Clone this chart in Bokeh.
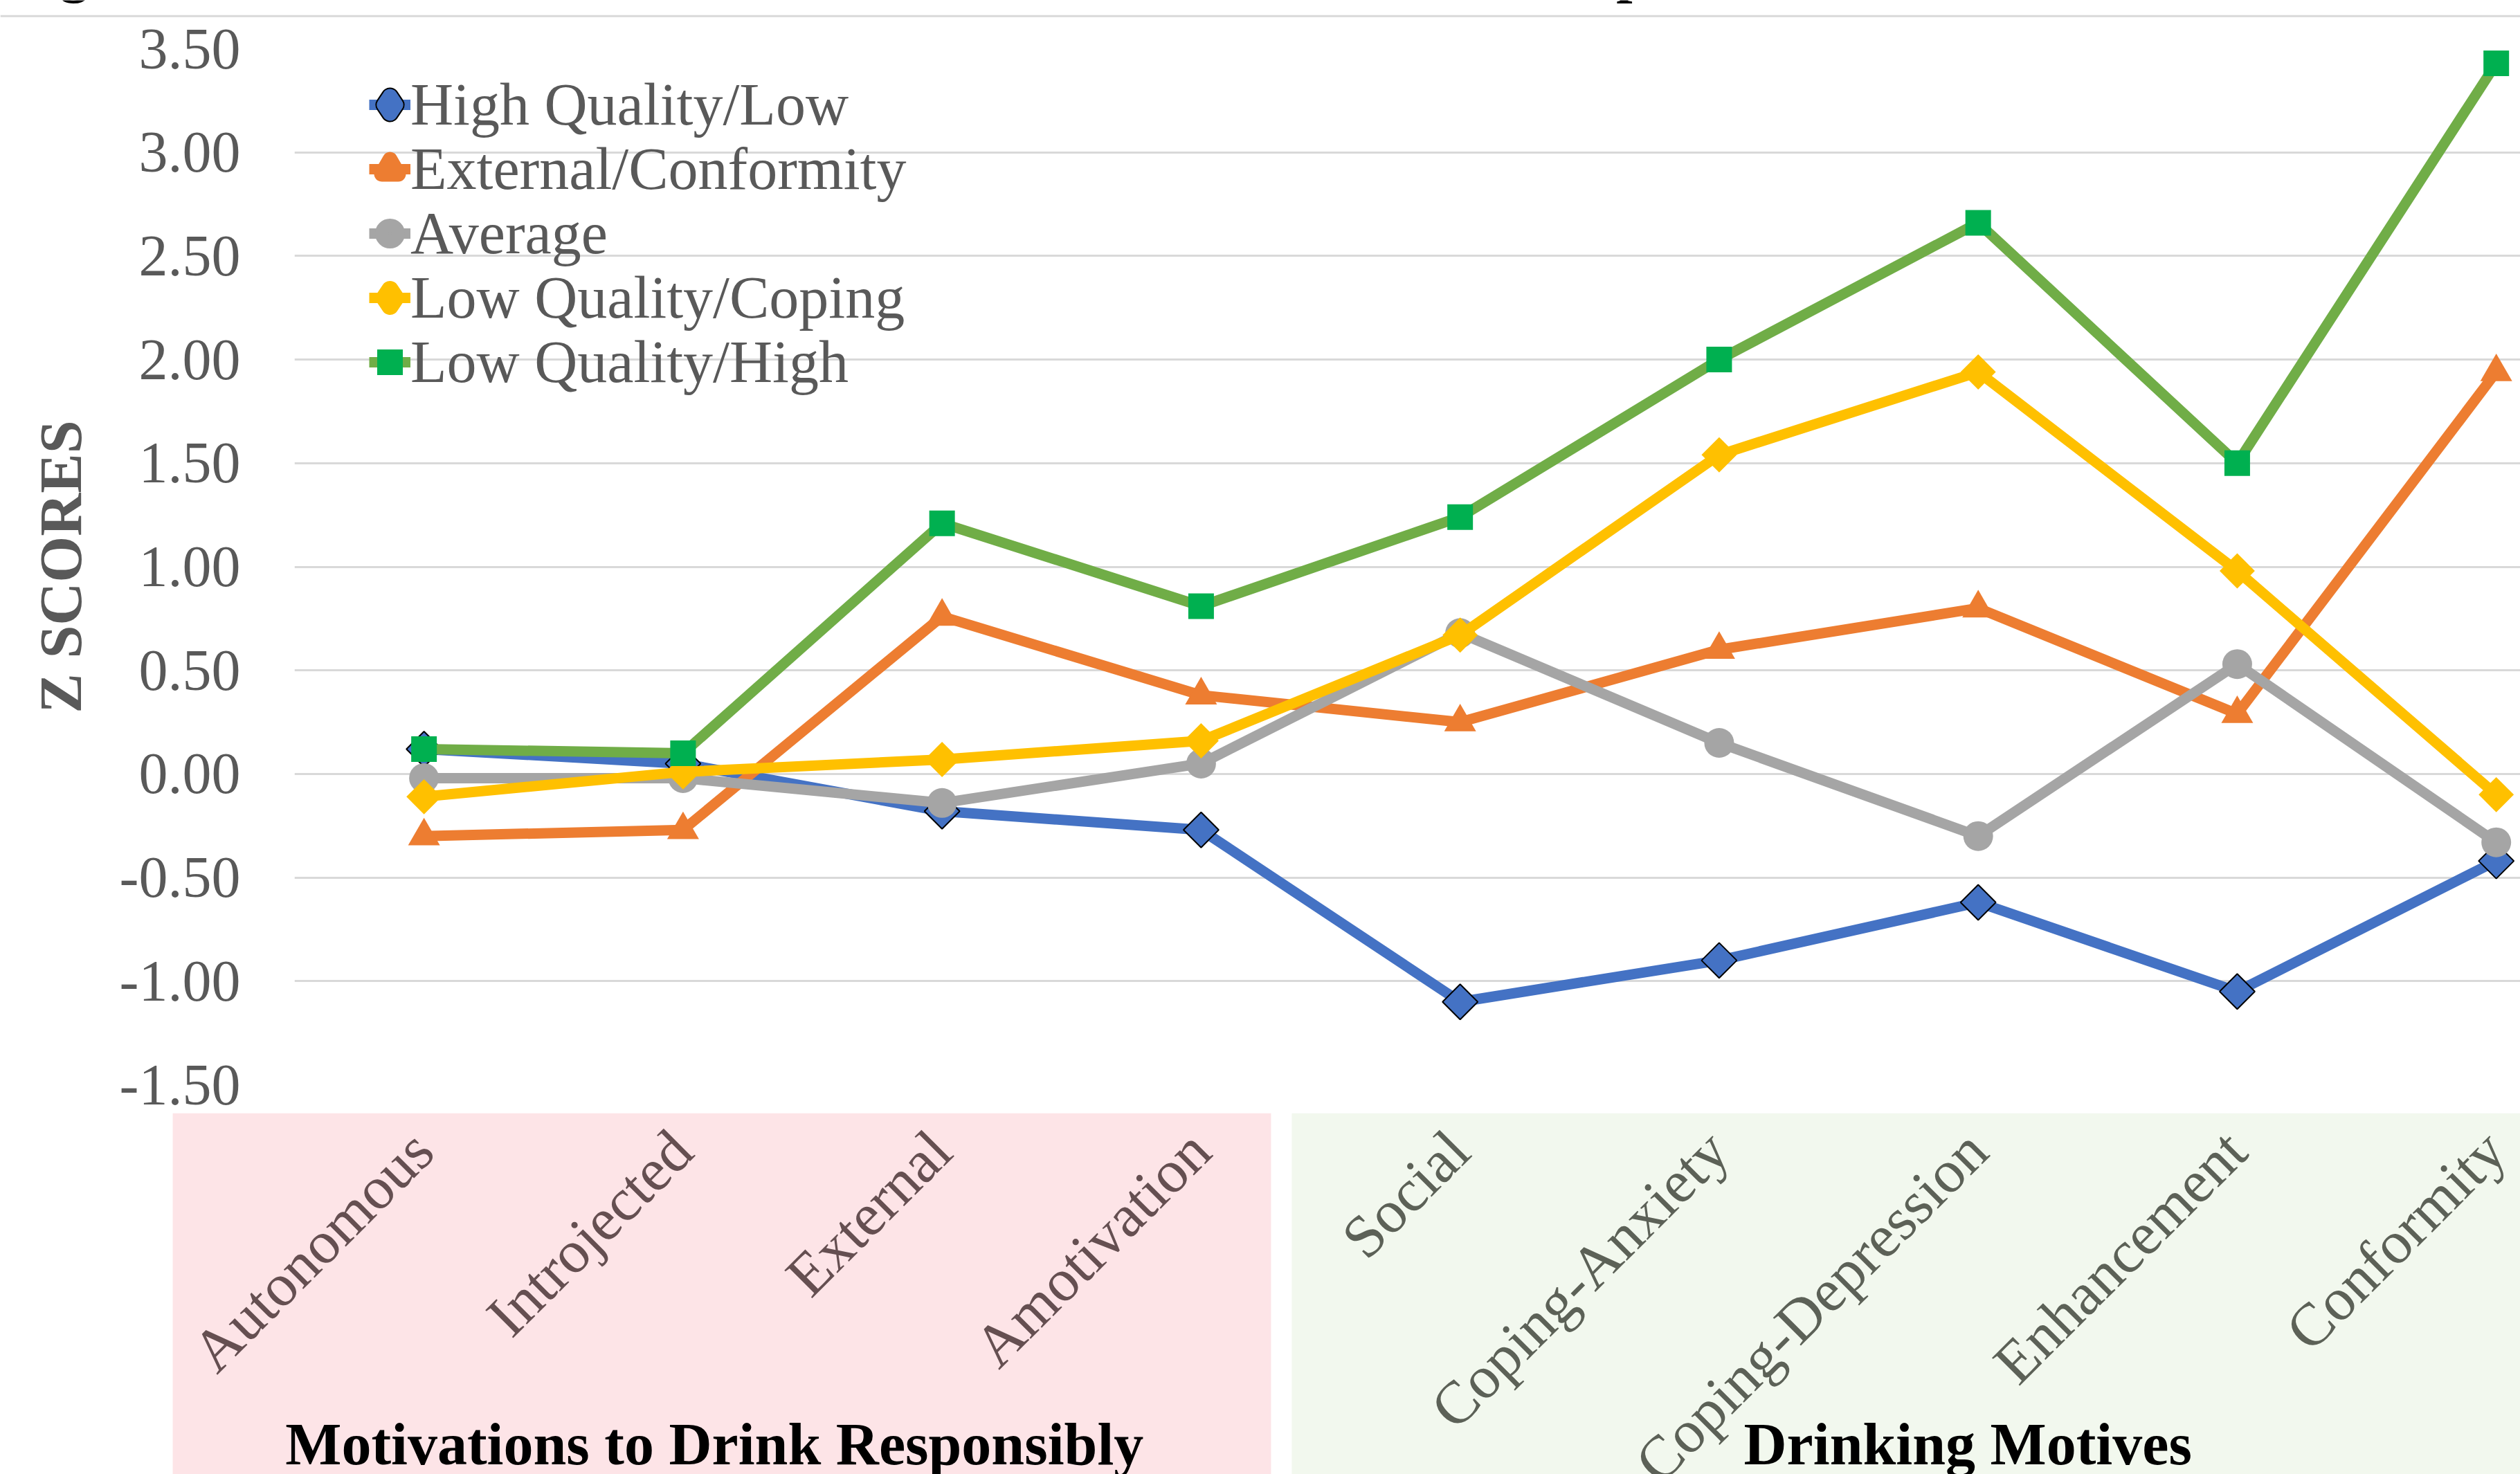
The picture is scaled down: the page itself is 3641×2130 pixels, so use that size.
import math
from bokeh.plotting import figure
from bokeh.models import (Range1d, FixedTicker, PrintfTickFormatter, Legend, LegendItem,
                          ColumnDataSource)
from bokeh.layouts import column
from bokeh.embed import file_html
from bokeh.resources import INLINE
from bokeh.core.properties import value

# ---------------- data ----------------
title_text = "Figure 1. Standardized scores of motivation variables across five profiles"
categories = ["Autonomous", "Introjected", "External", "Amotivation", "Social",
              "Coping-Anxiety", "Coping-Depression", "Enhancement", "Conformity"]
groups = ["Motivations to Drink  Responsibly", "Drinking Motives"]
group_sizes = [4, 5]

high_quality_low = [0.12, 0.05, -0.18, -0.27, -1.10, -0.90, -0.62, -1.05, -0.42]
external_conformity = [-0.30, -0.27, 0.76, 0.38, 0.25, 0.60, 0.80, 0.29, 1.94]
average = [-0.02, -0.02, -0.14, 0.05, 0.68, 0.15, -0.30, 0.53, -0.33]
low_quality_coping = [-0.11, 0.01, 0.07, 0.16, 0.67, 1.54, 1.94, 0.98, -0.10]
low_quality_high = [0.12, 0.10, 1.21, 0.81, 1.24, 2.00, 2.66, 1.50, 3.43]

series_names = ["High Quality/Low", "External/Conformity", "Average",
                "Low Quality/Coping", "Low Quality/High"]
series_values = [high_quality_low, external_conformity, average,
                 low_quality_coping, low_quality_high]

y_ticks = [-1.5, -1.0, -0.5, 0.0, 0.5, 1.0, 1.5, 2.0, 2.5, 3.0, 3.5]
y_axis_title = "Z SCORES"

# ---------------- styles ----------------
FONT = "Liberation Serif"
GRAY_TEXT = "#595959"
line_colors = ["#4472C4", "#ED7D31", "#A5A5A5", "#FFC000", "#70AD47"]
marker_fill = ["#4472C4", "#ED7D31", "#A5A5A5", "#FFC000", "#00B050"]
marker_shape = ["square", "triangle", "circle", "square", "square"]
marker_angle = [math.pi / 4, 0, 0, math.pi / 4, 0]
marker_size = [36, 46, 43, 36, 37]
marker_outline = ["black", None, None, None, None]
# legend markers: shape + stacked (stroke width, colour, join) layers to reach Excel's size
legend_shape = ["diamond", "triangle", "circle", "diamond", "square"]
legend_layers = [[(26, "black", "round"), (22, "#4472C4", "round")],
                 [(22, "#ED7D31", "round")],
                 [(19, "#A5A5A5", "round")],
                 [(25, "#FFC000", "round")],
                 [(13, "#00B050", "miter")]]
group_fill = ["#FDE4E7", "#F2F8EE"]
group_text = ["#654f51", "#5c6157"]
group_pad = [(0.97, 0.27), (0.65, 0.57)]
LINE_W = 15

W, H = 3641, 2130
STRIP_H = 30
BOTTOM_H = 522
MAIN_H = H - STRIP_H - BOTTOM_H
FRAME_LEFT = 425
x_start, x_end = -0.5, 8.093
px_per_unit = (W - FRAME_LEFT) / (x_end - x_start)
xb_start = x_start - FRAME_LEFT / px_per_unit

# ---------------- top strip (cut title + border) ----------------
ps = figure(width=W, height=STRIP_H, x_range=Range1d(0, W), y_range=Range1d(0, STRIP_H),
            output_backend="svg", toolbar_location=None,
            x_axis_location=None, y_axis_location=None, frame_align=False,
            min_border_left=0, min_border_right=0, min_border_top=0, min_border_bottom=0)
ps.outline_line_color = None
ps.xgrid.visible = False
ps.ygrid.visible = False
ps.segment(x0=[0], x1=[W], y0=[STRIP_H - 22.7], y1=[STRIP_H - 22.7],
           line_color="#D9D9D9", line_width=3)
ps.text(x=[11], y=[STRIP_H + 42], text=[title_text], text_baseline="middle",
        text_font=value(FONT), text_font_size="84px", text_font_style="bold",
        text_color="black")

# ---------------- main chart ----------------
p = figure(width=W, height=MAIN_H, x_range=Range1d(x_start, x_end),
           y_range=Range1d(-1.5, 3.5), output_backend="svg", toolbar_location=None,
           x_axis_location=None, frame_align=False,
           min_border_left=FRAME_LEFT, min_border_right=0,
           min_border_top=40, min_border_bottom=41)
p.outline_line_color = None
p.xgrid.visible = False
p.ygrid.ticker = FixedTicker(ticks=y_ticks)
p.ygrid.grid_line_color = "#D9D9D9"
p.ygrid.grid_line_width = 3

yax = p.yaxis[0]
yax.ticker = FixedTicker(ticks=y_ticks)
yax.formatter = PrintfTickFormatter(format="%.2f")
yax.axis_line_color = None
yax.major_tick_line_color = None
yax.minor_tick_line_color = None
yax.major_label_text_font = FONT
yax.major_label_text_font_size = "84px"
yax.major_label_text_color = GRAY_TEXT
yax.major_label_standoff = 72
yax.axis_label = y_axis_title
yax.axis_label_text_font = FONT
yax.axis_label_text_font_size = "86px"
yax.axis_label_text_font_style = "bold"
yax.axis_label_text_color = GRAY_TEXT
yax.axis_label_standoff = 34

# legend layout (style only)
LEG_X = 108          # glyph-box left, from frame left
LEG_Y0 = 1366        # first legend's bottom, from frame bottom
LEG_PITCH = 93
LEG_GW = 60
LEG_GH = 100

xs = list(range(len(categories)))
nan_src = ColumnDataSource(dict(x=[float("nan")], y=[float("nan")]))
for i, (name, vals) in enumerate(zip(series_names, series_values)):
    src = ColumnDataSource(dict(x=xs, y=vals))
    p.line("x", "y", source=src, line_color=line_colors[i], line_width=LINE_W,
           line_join="round", line_cap="round")
    p.scatter("x", "y", source=src, marker=marker_shape[i], size=marker_size[i],
              angle=marker_angle[i], fill_color=marker_fill[i],
              line_color=marker_outline[i] if marker_outline[i] else marker_fill[i],
              line_width=2 if marker_outline[i] else 0)
    # legend-only renderers (no visible data) giving Excel's short stub + marker
    rs = [p.line("x", "y", source=nan_src, line_color=line_colors[i],
                 line_width=LINE_W, line_cap="butt")]
    for lw, col, join in legend_layers[i]:
        rs.append(p.scatter("x", "y", source=nan_src, marker=legend_shape[i], size=24,
                            fill_color=col, line_color=col, line_width=lw,
                            line_join=join))
    leg = Legend(items=[LegendItem(label=name, renderers=rs)],
                 location=(LEG_X, LEG_Y0 - LEG_PITCH * i), border_line_color=None,
                 background_fill_alpha=0, padding=0, margin=0, spacing=0,
                 glyph_width=LEG_GW, glyph_height=LEG_GH, label_height=LEG_GH,
                 label_standoff=0, label_text_font=FONT, label_text_font_size="86px",
                 label_text_color=GRAY_TEXT)
    p.add_layout(leg)

# ---------------- category band ----------------
pb = figure(width=W, height=BOTTOM_H, x_range=Range1d(xb_start, x_end),
            y_range=Range1d(0, BOTTOM_H), output_backend="svg", toolbar_location=None,
            x_axis_location=None, y_axis_location=None, frame_align=False,
            min_border_left=0, min_border_right=0, min_border_top=0, min_border_bottom=0)
pb.outline_line_color = None
pb.xgrid.visible = False
pb.ygrid.visible = False

g_left, g_right, g_center, cat_color = [], [], [], []
start = 0
for gi, n in enumerate(group_sizes):
    first, last = start, start + n - 1
    l = first - group_pad[gi][0]
    r = last + group_pad[gi][1]
    g_left.append(l)
    g_right.append(r)
    g_center.append((l + r) / 2)
    cat_color += [group_text[gi]] * n
    start += n

pb.quad(left=g_left, right=g_right, bottom=0, top=BOTTOM_H, fill_color=group_fill,
        line_color=None)
pb.text(x=xs, y=[482] * len(xs), text=categories, angle=math.pi / 4,
        text_align="right", text_baseline="middle", x_offset=-2,
        text_font=value(FONT), text_font_size="87px", text_color=cat_color)
pb.text(x=g_center, y=[44] * len(groups), text=groups, text_align="center",
        text_baseline="middle", text_font=value(FONT), text_font_size="86px",
        text_font_style="bold", text_color="black")

layout = column(ps, p, pb, spacing=0)
open("out.html", "w").write(file_html(layout, INLINE))
